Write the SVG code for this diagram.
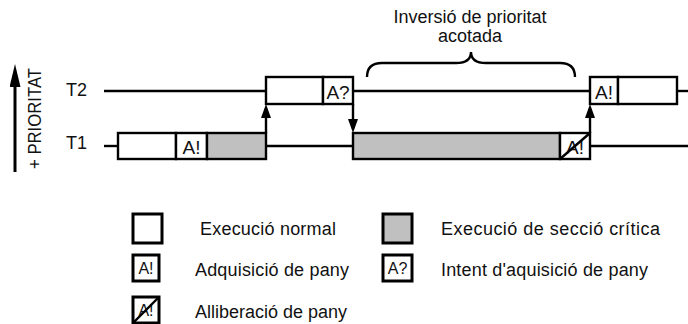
<svg xmlns="http://www.w3.org/2000/svg" width="688" height="324" viewBox="0 0 688 324">
  <style>
    text { font-family: "Liberation Sans", Arial, sans-serif; fill: #111; }
    .lbl { font-size: 18px; }
    .tag { font-size: 19px; }
    .ltag { font-size: 16px; }
    .line { stroke: #000; stroke-width: 2.4; fill: none; }
    .box { stroke: #000; stroke-width: 2.4; fill: #fff; }
    .crit { stroke: #000; stroke-width: 2.4; fill: #c0c0c0; }
    .lbox { stroke: #000; stroke-width: 3; fill: #fff; }
    .lcrit { stroke: #000; stroke-width: 3; fill: #c0c0c0; }
  </style>
  <defs>
    <marker id="head" viewBox="0 0 14 10" markerUnits="userSpaceOnUse" markerWidth="14" markerHeight="10" refX="8" refY="5" orient="auto">
      <path d="M0,0 L14,5 L0,10 z" fill="#000"/>
    </marker>
    <marker id="bighead" viewBox="0 0 23 11" markerUnits="userSpaceOnUse" markerWidth="23" markerHeight="11" refX="12" refY="5.5" orient="auto">
      <path d="M0,0 L23,5.5 L0,11 z" fill="#000"/>
    </marker>
  </defs>

  <!-- priority axis -->
  <g id="priority">
    <line x1="15" y1="172" x2="15" y2="75" stroke="#000" stroke-width="3" marker-end="url(#bighead)"/>
    <text class="lbl" transform="translate(41,169) rotate(-90)" font-size="17" textLength="101" lengthAdjust="spacingAndGlyphs">+ PRIORITAT</text>
  </g>

  <!-- task labels -->
  <g id="label-T2"><text class="lbl" x="66" y="96">T2</text></g>
  <g id="label-T1"><text class="lbl" x="66" y="149">T1</text></g>

  <!-- timelines and hand-over arrows -->
  <g id="connectors">
    <line class="line" x1="104" y1="91" x2="266" y2="91"/>
    <line class="line" x1="353" y1="91" x2="590" y2="91"/>
    <line class="line" x1="677" y1="91" x2="688" y2="91"/>
    <line class="line" x1="104" y1="146" x2="118" y2="146"/>
    <line class="line" x1="266" y1="146" x2="353" y2="146"/>
    <line class="line" x1="590" y1="146" x2="688" y2="146"/>
    <line class="line" x1="266" y1="133" x2="266" y2="110" marker-end="url(#head)"/>
    <line class="line" x1="353" y1="104" x2="353" y2="127" marker-end="url(#head)"/>
    <line class="line" x1="590" y1="133" x2="590" y2="110" marker-end="url(#head)"/>
  </g>

  <!-- T1 first run: normal, acquire, critical -->
  <g id="t1-run1">
    <rect class="box" x="118" y="133" width="58" height="26"/>
    <rect class="box" x="176" y="133" width="31" height="26"/>
    <text class="tag" x="191.5" y="154" text-anchor="middle">A!</text>
    <rect class="crit" x="207" y="133" width="59" height="26"/>
  </g>

  <!-- T2 first run: normal, attempt to acquire -->
  <g id="t2-run1">
    <rect class="box" x="266" y="77" width="57" height="27"/>
    <rect class="box" x="323" y="77" width="30" height="27"/>
    <text class="tag" x="338" y="99" text-anchor="middle">A?</text>
  </g>

  <!-- T1 second run: critical section, release -->
  <g id="t1-run2">
    <rect class="crit" x="353" y="133" width="207" height="26"/>
    <rect class="box" x="560" y="133" width="30" height="26"/>
    <text class="tag" x="575" y="154" text-anchor="middle">A!</text>
    <line class="line" x1="560" y1="159" x2="590" y2="133"/>
  </g>

  <!-- T2 second run: acquire, normal -->
  <g id="t2-run2">
    <rect class="box" x="590" y="77" width="28" height="27"/>
    <text class="tag" x="604" y="99" text-anchor="middle">A!</text>
    <rect class="box" x="618" y="77" width="59" height="27"/>
  </g>

  <!-- bounded inversion brace -->
  <g id="inversion">
    <path class="line" d="M367,77 Q367,63 382,63 L456,63 Q471,63 471,52 Q471,63 486,63 L560,63 Q575,63 575,77"/>
    <text class="lbl" x="470" y="23" text-anchor="middle">Inversió de prioritat</text>
    <text class="lbl" x="470" y="42" text-anchor="middle">acotada</text>
  </g>

  <!-- legend -->
  <g id="legend-normal">
    <rect class="lbox" x="133" y="214" width="29" height="29"/>
    <text class="lbl" x="200" y="235" textLength="136">Execució normal</text>
  </g>
  <g id="legend-critical">
    <rect class="lcrit" x="383" y="214" width="29" height="29"/>
    <text class="lbl" x="441" y="235" textLength="219">Execució de secció crítica</text>
  </g>
  <g id="legend-acquire">
    <rect class="lbox" x="133" y="255" width="26" height="26"/>
    <text class="ltag" x="146" y="274" text-anchor="middle">A!</text>
    <text class="lbl" x="195" y="276" textLength="154">Adquisició de pany</text>
  </g>
  <g id="legend-attempt">
    <rect class="lbox" x="383" y="255" width="29" height="26"/>
    <text class="ltag" x="397.5" y="274" text-anchor="middle">A?</text>
    <text class="lbl" x="441" y="276" textLength="207">Intent d'aquisició de pany</text>
  </g>
  <g id="legend-release">
    <rect class="lbox" x="133" y="297" width="26" height="26"/>
    <text class="ltag" x="146" y="316" text-anchor="middle">A!</text>
    <line x1="133" y1="323" x2="159" y2="297" stroke="#000" stroke-width="2.4"/>
    <text class="lbl" x="195" y="318" textLength="152">Alliberació de pany</text>
  </g>
</svg>
